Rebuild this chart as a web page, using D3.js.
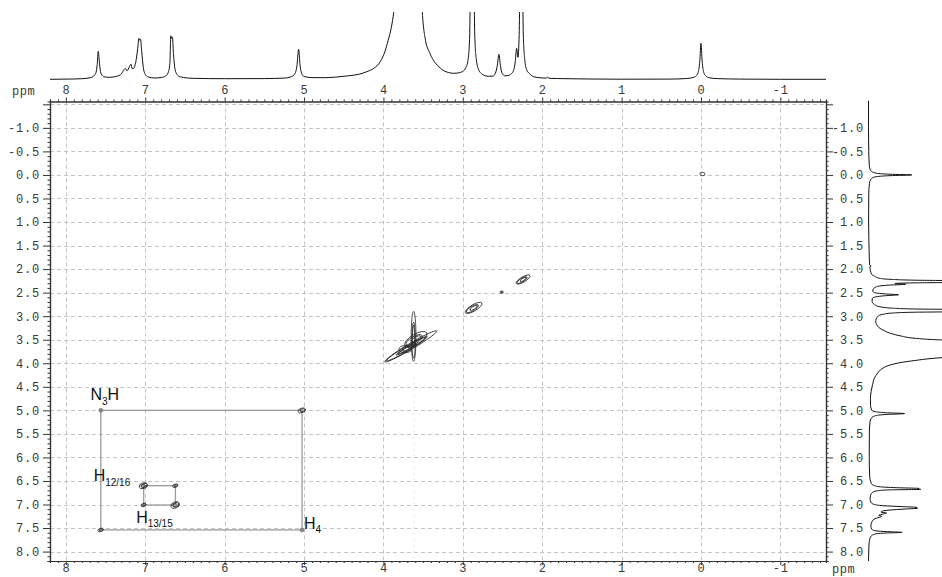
<!DOCTYPE html>
<html>
<head>
<meta charset="utf-8">
<script src="https://cdn.jsdelivr.net/npm/d3@7"></script>
<style>
  html, body { margin: 0; padding: 0; background: #fff; }
  svg { display: block; }
  .tick text { font-family: "Liberation Mono", "DejaVu Sans Mono", monospace; font-size: 12px; fill: #3a3a3a; letter-spacing: 0.8px; }
</style>
</head>
<body>
<script>
// ---------------- DATA ----------------
const xTickValues = [8, 7, 6, 5, 4, 3, 2, 1, 0, -1];
const yTickValues = [-1.0, -0.5, 0.0, 0.5, 1.0, 1.5, 2.0, 2.5, 3.0, 3.5, 4.0, 4.5, 5.0, 5.5, 6.0, 6.5, 7.0, 7.5, 8.0];
const yGridExtra = [-1.5];

// 1D projection: [ppm, intensity]
const spectrum = [
  [8.2, 0], [7.9, 0.3], [7.8, 0.6], [7.72, 1.2], [7.67, 2.2], [7.64, 4], [7.62, 7], [7.605, 15], [7.592, 28], [7.58, 19], [7.565, 8], [7.545, 4], [7.52, 2.5],
  [7.45, 2], [7.36, 3], [7.3, 5.5], [7.265, 10], [7.25, 11], [7.232, 8.5], [7.2, 12.5], [7.18, 15], [7.163, 10.5], [7.145, 11],
  [7.12, 17], [7.095, 31], [7.08, 41], [7.07, 39], [7.06, 40], [7.045, 28], [7.025, 12], [7.0, 5], [6.96, 2.2], [6.88, 1.3],
  [6.8, 1.8], [6.74, 3.5], [6.71, 7], [6.69, 16], [6.678, 43.5], [6.668, 41], [6.658, 42], [6.645, 26], [6.625, 10], [6.6, 5], [6.56, 2.5],
  [6.4, 1], [6.0, 0.6], [5.5, 0.7], [5.25, 1.2], [5.16, 2.6], [5.12, 5], [5.09, 13], [5.068, 30], [5.05, 14], [5.03, 6],
  [5.0, 2.8], [4.9, 1.7], [4.75, 1.6], [4.6, 2.2], [4.45, 3.4], [4.3, 5.2], [4.21, 7.6], [4.12, 11], [4.04, 17.6], [3.98, 28],
  [3.94, 39], [3.9, 52], [3.87, 67], [3.82, 110], [3.72, 260], [3.62, 420], [3.56, 170], [3.51, 67], [3.47, 39], [3.42, 27],
  [3.37, 19], [3.3, 12.5], [3.24, 8.6], [3.18, 6.8], [3.12, 6], [3.05, 6.5], [3.0, 8], [2.96, 12], [2.935, 19], [2.915, 40],
  [2.9, 110], [2.885, 130], [2.875, 100], [2.865, 130], [2.85, 45], [2.83, 20], [2.8, 9.5], [2.77, 6], [2.74, 4.3], [2.68, 3],
  [2.62, 3.2], [2.59, 6], [2.565, 14], [2.545, 25], [2.527, 14], [2.505, 6], [2.47, 3.5], [2.43, 3.8], [2.39, 5.5], [2.36, 9],
  [2.34, 17], [2.322, 31], [2.305, 22], [2.29, 45], [2.272, 130], [2.255, 130], [2.238, 45], [2.22, 20], [2.195, 9.3],
  [2.15, 5], [2.11, 2.6], [2.03, 1.6], [1.95, 1.2], [1.935, 2.2], [1.915, 1], [1.7, 0.6], [1.4, 0.3], [1.0, 0.1],
  [0.4, 0.2], [0.18, 0.8], [0.1, 1.8], [0.06, 3.5], [0.035, 7], [0.015, 18], [0.0, 36], [-0.015, 18], [-0.035, 7], [-0.06, 3.5],
  [-0.1, 1.6], [-0.2, 0.7], [-0.5, 0.2], [-1.0, 0], [-1.575, 0]
];

// 2D contour peaks: position (ppm), long/short extent (ppm), number of contour rings, orientation kind
const contourPeaks = [
  { x: -0.02, y: -0.02, len: 0.065, wid: 0.045, rings: 1, kind: "round" },
  { x: 2.245, y: 2.225, len: 0.2, wid: 0.065, rings: 3, kind: "diag" },
  { x: 2.51, y: 2.49, len: 0.04, wid: 0.03, rings: 2, kind: "round" },
  { x: 2.87, y: 2.83, len: 0.24, wid: 0.08, rings: 3, kind: "diag" },
  { x: 3.675, y: 3.66, len: 0.76, wid: 0.075, rings: 4, kind: "diag" },
  { x: 3.62, y: 3.46, len: 0.63, wid: 0.06, rings: 3, kind: "vert" },
  { x: 3.6, y: 3.5, len: 0.32, wid: 0.13, rings: 3, kind: "diag" },
  { x: 3.72, y: 3.7, len: 0.16, wid: 0.09, rings: 2, kind: "round" },
  { x: 5.025, y: 5.0, len: 0.1, wid: 0.055, rings: 2, kind: "cross" },
  { x: 7.56, y: 7.54, len: 0.075, wid: 0.04, rings: 2, kind: "cross" },
  { x: 7.02, y: 6.6, len: 0.11, wid: 0.07, rings: 3, kind: "cross" },
  { x: 6.62, y: 6.6, len: 0.07, wid: 0.04, rings: 2, kind: "cross" },
  { x: 7.02, y: 7.01, len: 0.07, wid: 0.04, rings: 2, kind: "cross" },
  { x: 6.62, y: 7.01, len: 0.11, wid: 0.075, rings: 3, kind: "cross" }
];
const markerDots = [[7.56, 5.0], [5.025, 7.54]];

// assignment rectangles [x1, x2, y1, y2] in ppm
const assignBoxes = [
  [7.56, 5.025, 5.0, 7.54],
  [7.02, 6.62, 6.6, 7.01]
];

// annotations: main, subscript, tail, x ppm (left), y ppm (baseline)
const annotations = [
  { main: "N", sub: "3", tail: "H", x: 7.69, y: 4.79 },
  { main: "H", sub: "12/16", tail: "", x: 7.65, y: 6.51 },
  { main: "H", sub: "13/15", tail: "", x: 7.115, y: 7.385 },
  { main: "H", sub: "4", tail: "", x: 5.0, y: 7.52 }
];

// ---------------- LAYOUT ----------------
const W = 942, H = 577;
const L = 50, R = 826, T = 101.5, B = 561;

const svg = d3.select("body").append("svg").attr("width", W).attr("height", H);

const x = d3.scaleLinear().domain([8.2, -1.575]).range([L, R]);
const y = d3.scaleLinear().domain([-1.56, 8.2]).range([T, B]);
const topI = d3.scaleLinear().domain([0, 67]).range([79.3, 12.3]);
const sideI = d3.scaleLinear().domain([0, 61]).range([868.5, 941.7]);

// grid
const grid = svg.append("g").attr("stroke", "#c4c4c4").attr("stroke-width", 1).attr("stroke-dasharray", "4,3");
grid.selectAll("line.v").data(xTickValues).join("line")
  .attr("x1", d => Math.round(x(d)) + 0.5).attr("x2", d => Math.round(x(d)) + 0.5)
  .attr("y1", T).attr("y2", B);
grid.selectAll("line.h").data(yGridExtra.concat(yTickValues)).join("line")
  .attr("y1", d => Math.round(y(d)) + 0.5).attr("y2", d => Math.round(y(d)) + 0.5)
  .attr("x1", L).attr("x2", R);

// faint t1-noise streak at water
svg.append("line")
  .attr("x1", x(3.615)).attr("x2", x(3.615)).attr("y1", y(4.3)).attr("y2", B - 2)
  .attr("stroke", "#cfcfcf").attr("stroke-width", 1).attr("stroke-dasharray", "1,5");

// minor ticks
const minorX = d3.range(-15, 83).map(d => d / 10).filter(d => !xTickValues.includes(d));
const minorY = d3.range(-15, 83).map(d => d / 10).filter(d => !yTickValues.includes(d) && d !== -1.5);

function styleAxis(g) {
  g.select(".domain").attr("stroke", "#333").attr("stroke-width", 1.2);
  g.selectAll(".tick line").attr("stroke", "#333");
}
const fmtX = d => String(d);
const fmtY = d => d === -1.5 ? "" : d.toFixed(1);

svg.append("g").attr("transform", `translate(0,${T})`)
  .call(d3.axisTop(x).tickValues(minorX).tickSize(2).tickFormat(""))
  .call(styleAxis);
svg.append("g").attr("transform", `translate(0,${T})`)
  .call(d3.axisTop(x).tickValues(xTickValues).tickSize(4).tickPadding(4).tickSizeOuter(0).tickFormat(fmtX))
  .call(styleAxis);

svg.append("g").attr("transform", `translate(0,${B})`)
  .call(d3.axisBottom(x).tickValues(minorX).tickSize(2).tickFormat(""))
  .call(styleAxis);
const bottomAx = svg.append("g").attr("transform", `translate(0,${B})`)
  .call(d3.axisBottom(x).tickValues(xTickValues).tickSize(4).tickPadding(0).tickSizeOuter(0).tickFormat(fmtX))
  .call(styleAxis);
bottomAx.selectAll(".tick text").attr("dy", "0.62em");

svg.append("g").attr("transform", `translate(${L},0)`)
  .call(d3.axisLeft(y).tickValues(minorY).tickSize(2.5).tickFormat(""))
  .call(styleAxis);
svg.append("g").attr("transform", `translate(${L},0)`)
  .call(d3.axisLeft(y).tickValues([-1.5].concat(yTickValues)).tickSize(7).tickPadding(3).tickSizeOuter(0).tickFormat(fmtY))
  .call(styleAxis);

svg.append("g").attr("transform", `translate(${R},0)`)
  .call(d3.axisRight(y).tickValues(minorY).tickSize(2.5).tickFormat(""))
  .call(styleAxis);
const rightAx = svg.append("g").attr("transform", `translate(${R},0)`)
  .call(d3.axisRight(y).tickValues([-1.5].concat(yTickValues)).tickSize(7).tickPadding(3).tickSizeOuter(0).tickFormat(fmtY))
  .call(styleAxis);
rightAx.selectAll(".tick text").attr("text-anchor", "end").attr("x", 38);

// ppm labels
svg.append("text").attr("x", 12).attr("y", 95).text("ppm")
  .attr("font-family", "Liberation Mono, monospace").attr("font-size", 12).attr("fill", "#3a3a3a").attr("letter-spacing", 0.5);
svg.append("text").attr("x", 832).attr("y", 572.5).text("ppm")
  .attr("font-family", "Liberation Mono, monospace").attr("font-size", 12).attr("fill", "#3a3a3a").attr("letter-spacing", 0.5);

// top 1D spectrum
svg.append("clipPath").attr("id", "clipTop").append("rect").attr("x", 0).attr("y", 12).attr("width", W).attr("height", 80);
svg.append("path").datum(spectrum)
  .attr("clip-path", "url(#clipTop)")
  .attr("d", d3.line().x(d => x(d[0])).y(d => topI(d[1])).curve(d3.curveMonotoneX))
  .attr("fill", "none").attr("stroke", "#111").attr("stroke-width", 1);

// side 1D spectrum
svg.append("clipPath").attr("id", "clipSide").append("rect").attr("x", 850).attr("y", 0).attr("width", 92).attr("height", H);
svg.append("path").datum(spectrum)
  .attr("clip-path", "url(#clipSide)")
  .attr("d", d3.line().y(d => y(d[0])).x(d => sideI(d[1])).curve(d3.curveMonotoneY))
  .attr("fill", "none").attr("stroke", "#111").attr("stroke-width", 1);

// assignment boxes
const boxG = svg.append("g").attr("fill", "none").attr("stroke", "#9a9a9a").attr("stroke-width", 1.3);
boxG.selectAll("rect").data(assignBoxes).join("rect")
  .attr("x", d => x(d[0])).attr("y", d => y(d[2]))
  .attr("width", d => x(d[1]) - x(d[0])).attr("height", d => y(d[3]) - y(d[2]));
svg.append("g").selectAll("circle").data(markerDots).join("circle")
  .attr("cx", d => x(d[0])).attr("cy", d => y(d[1])).attr("r", 2)
  .attr("fill", "#888").attr("stroke", "#666").attr("stroke-width", 0.5);

// contour peaks
const pxPerPpm = Math.abs(x(0) - x(1));
const diagAngle = Math.atan2(y(1) - y(0), x(1) - x(0)) * 180 / Math.PI;
const contG = svg.append("g").attr("fill", "none").attr("stroke", "#2a2a2a").attr("stroke-width", 0.8);
contourPeaks.forEach(p => {
  const a = p.len * pxPerPpm / 2, b = p.wid * pxPerPpm / 2;
  let ang = 0;
  if (p.kind === "diag") ang = diagAngle;
  else if (p.kind === "vert") ang = 90;
  else if (p.kind === "cross") ang = -18;
  const g = contG.append("g").attr("transform", `translate(${x(p.x)},${y(p.y)}) rotate(${ang})`);
  d3.range(p.rings).forEach(i => {
    const f = 1 - i / (p.rings + 0.6);
    g.append("ellipse").attr("cx", (i % 2 ? 0.6 : -0.4) * a * 0.15).attr("cy", 0)
      .attr("rx", a * f).attr("ry", Math.max(0.8, b * f));
  });
});

// annotations
const annG = svg.append("g").attr("font-family", "Liberation Sans, Arial, sans-serif").attr("fill", "#111");
annotations.forEach(a => {
  const t = annG.append("text").attr("x", x(a.x)).attr("y", y(a.y)).attr("font-size", 16);
  t.append("tspan").text(a.main);
  t.append("tspan").text(a.sub).attr("font-size", 10).attr("dy", 4.5);
  if (a.tail) t.append("tspan").text(a.tail).attr("dy", -4.5);
});
</script>
</body>
</html>
